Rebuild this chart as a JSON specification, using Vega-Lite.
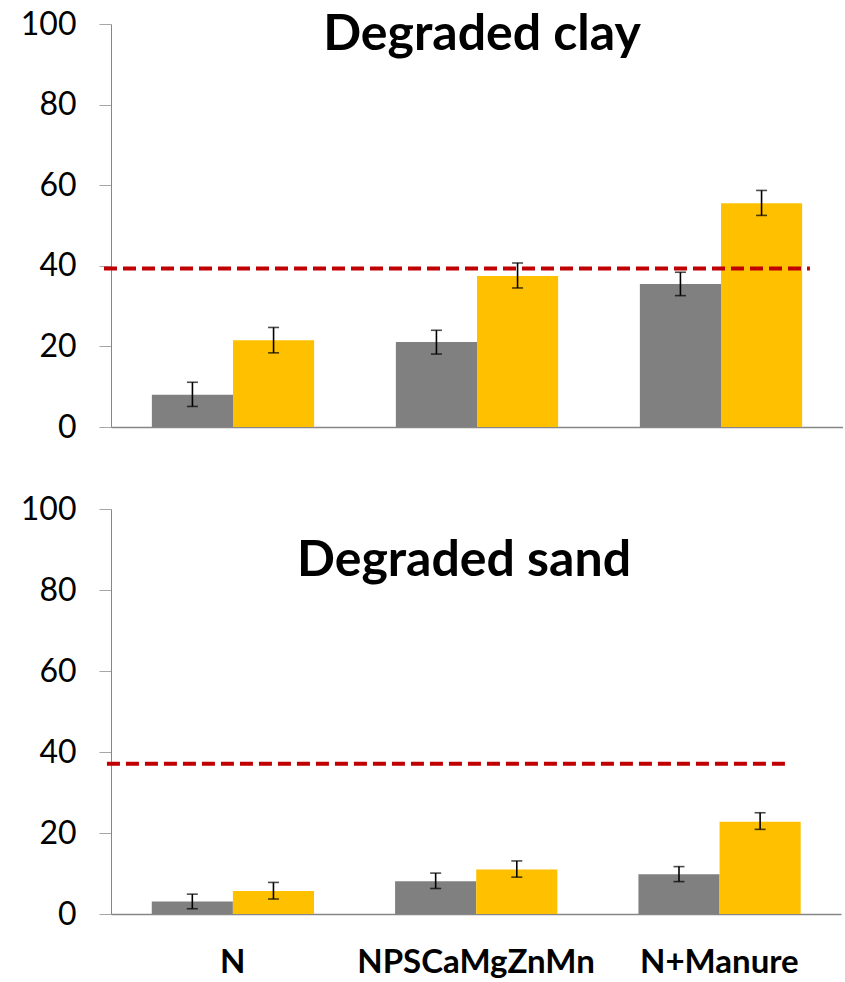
{
  "$schema": "https://vega.github.io/schema/vega-lite/v6.json",
  "padding": {"left": 20, "top": 8, "right": 0, "bottom": 0},
  "background": "white",
  "config": {"view": {"stroke": null}, "font": "Lato", "axis": {"grid": false}},
  "datasets": {
    "bars": [
      {"soil": "Degraded clay", "treatment": "N", "series": "Series 1", "value": 8.0, "lo": 5.1, "hi": 11.1},
      {"soil": "Degraded clay", "treatment": "N", "series": "Series 2", "value": 21.5, "lo": 18.4, "hi": 24.7},
      {"soil": "Degraded clay", "treatment": "NPSCaMgZnMn", "series": "Series 1", "value": 21.1, "lo": 18.1, "hi": 24.0},
      {"soil": "Degraded clay", "treatment": "NPSCaMgZnMn", "series": "Series 2", "value": 37.5, "lo": 34.5, "hi": 40.7},
      {"soil": "Degraded clay", "treatment": "N+Manure", "series": "Series 1", "value": 35.5, "lo": 32.6, "hi": 38.4},
      {"soil": "Degraded clay", "treatment": "N+Manure", "series": "Series 2", "value": 55.5, "lo": 52.5, "hi": 58.7},
      {"soil": "Degraded sand", "treatment": "N", "series": "Series 1", "value": 3.1, "lo": 1.3, "hi": 4.9},
      {"soil": "Degraded sand", "treatment": "N", "series": "Series 2", "value": 5.7, "lo": 3.7, "hi": 7.8},
      {"soil": "Degraded sand", "treatment": "NPSCaMgZnMn", "series": "Series 1", "value": 8.1, "lo": 6.3, "hi": 10.1},
      {"soil": "Degraded sand", "treatment": "NPSCaMgZnMn", "series": "Series 2", "value": 11.0, "lo": 9.1, "hi": 13.1},
      {"soil": "Degraded sand", "treatment": "N+Manure", "series": "Series 1", "value": 9.8, "lo": 8.0, "hi": 11.7},
      {"soil": "Degraded sand", "treatment": "N+Manure", "series": "Series 2", "value": 22.8, "lo": 20.9, "hi": 25.0}
    ],
    "ref": [
      {"soil": "Degraded clay", "level": 39.3, "from": "N", "to": "N+Manure"},
      {"soil": "Degraded sand", "level": 37.1, "from": "N", "to": "N+Manure"}
    ]
  },
  "spacing": 50,
  "vconcat": [
    {
      "width": 732,
      "height": 403,
      "title": {"text": "Degraded clay", "fontSize": 50, "fontWeight": "bold", "font": "Lato", "color": "black", "frame": "group", "anchor": "middle", "offset": -52, "dx": 5},
      "layer": [
        {
          "data": {"name": "bars"},
          "transform": [{"filter": "datum.soil === 'Degraded clay'"}],
          "mark": {"type": "bar"},
          "encoding": {
            "x": {"field": "treatment", "type": "nominal", "title": null,
              "scale": {"domain": ["N", "NPSCaMgZnMn", "N+Manure"], "paddingInner": 0.335, "paddingOuter": 0.1675},
              "axis": {"labels": false, "ticks": false, "tickSize": 0, "domainColor": "#868686", "domainWidth": 1.3, "title": null}},
            "xOffset": {"field": "series", "type": "nominal", "scale": {"paddingInner": 0, "paddingOuter": 0}},
            "y": {"field": "value", "type": "quantitative", "title": null,
              "scale": {"domain": [0, 100], "nice": false},
              "axis": {"values": [0, 20, 40, 60, 80, 100], "labelFontSize": 32, "labelFont": "Lato", "labelColor": "black", "tickSize": 12, "tickColor": "#a6a6a6", "domainColor": "#868686", "labelPadding": 23, "title": null}},
            "color": {"field": "series", "type": "nominal", "legend": null, "scale": {"domain": ["Series 1", "Series 2"], "range": ["#808080", "#FFC000"]}}
          }
        },
        {
          "data": {"name": "bars"},
          "transform": [{"filter": "datum.soil === 'Degraded clay'"}],
          "mark": {"type": "rule", "color": "black", "strokeWidth": 1.6},
          "encoding": {
            "x": {"field": "treatment", "type": "nominal", "title": null},
            "xOffset": {"field": "series", "type": "nominal"},
            "y": {"field": "lo", "type": "quantitative", "title": null},
            "y2": {"field": "hi"}
          }
        },
        {
          "data": {"name": "bars"},
          "transform": [{"filter": "datum.soil === 'Degraded clay'"}],
          "mark": {"type": "tick", "color": "black", "size": 11, "thickness": 1.6, "orient": "horizontal"},
          "encoding": {
            "x": {"field": "treatment", "type": "nominal", "title": null},
            "xOffset": {"field": "series", "type": "nominal"},
            "y": {"field": "lo", "type": "quantitative", "title": null}
          }
        },
        {
          "data": {"name": "bars"},
          "transform": [{"filter": "datum.soil === 'Degraded clay'"}],
          "mark": {"type": "tick", "color": "black", "size": 11, "thickness": 1.6, "orient": "horizontal"},
          "encoding": {
            "x": {"field": "treatment", "type": "nominal", "title": null},
            "xOffset": {"field": "series", "type": "nominal"},
            "y": {"field": "hi", "type": "quantitative", "title": null}
          }
        },
        {
          "data": {"name": "ref"},
          "transform": [{"filter": "datum.soil === 'Degraded clay'"}],
          "mark": {"type": "rule", "color": "#C00000", "strokeWidth": 4, "strokeDash": [13, 6]},
          "encoding": {
            "x": {"field": "from", "type": "nominal", "title": null, "bandPosition": -0.295},
            "x2": {"field": "to", "bandPosition": 1.048},
            "y": {"field": "level", "type": "quantitative", "title": null}
          }
        }
      ]
    },
    {
      "width": 730,
      "height": 405,
      "title": {"text": "Degraded sand", "fontSize": 50, "fontWeight": "bold", "font": "Lato", "color": "black", "frame": "group", "anchor": "middle", "offset": -93, "dx": -12},
      "layer": [
        {
          "data": {"name": "bars"},
          "transform": [{"filter": "datum.soil === 'Degraded sand'"}],
          "mark": {"type": "bar"},
          "encoding": {
            "x": {"field": "treatment", "type": "nominal", "title": null,
              "scale": {"domain": ["N", "NPSCaMgZnMn", "N+Manure"], "paddingInner": 0.335, "paddingOuter": 0.1675},
              "axis": {"labelAngle": 0, "labelFontSize": 33, "labelFontWeight": "bold", "labelFont": "Lato", "labelColor": "black", "labelLimit": 500, "ticks": false, "tickSize": 0, "labelPadding": 32, "domainColor": "#868686", "domainWidth": 1.3, "title": null}},
            "xOffset": {"field": "series", "type": "nominal", "scale": {"paddingInner": 0, "paddingOuter": 0}},
            "y": {"field": "value", "type": "quantitative", "title": null,
              "scale": {"domain": [0, 100], "nice": false},
              "axis": {"values": [0, 20, 40, 60, 80, 100], "labelFontSize": 32, "labelFont": "Lato", "labelColor": "black", "tickSize": 12, "tickColor": "#a6a6a6", "domainColor": "#868686", "labelPadding": 23, "title": null}},
            "color": {"field": "series", "type": "nominal", "legend": null, "scale": {"domain": ["Series 1", "Series 2"], "range": ["#808080", "#FFC000"]}}
          }
        },
        {
          "data": {"name": "bars"},
          "transform": [{"filter": "datum.soil === 'Degraded sand'"}],
          "mark": {"type": "rule", "color": "black", "strokeWidth": 1.6},
          "encoding": {
            "x": {"field": "treatment", "type": "nominal", "title": null},
            "xOffset": {"field": "series", "type": "nominal"},
            "y": {"field": "lo", "type": "quantitative", "title": null},
            "y2": {"field": "hi"}
          }
        },
        {
          "data": {"name": "bars"},
          "transform": [{"filter": "datum.soil === 'Degraded sand'"}],
          "mark": {"type": "tick", "color": "black", "size": 11, "thickness": 1.6, "orient": "horizontal"},
          "encoding": {
            "x": {"field": "treatment", "type": "nominal", "title": null},
            "xOffset": {"field": "series", "type": "nominal"},
            "y": {"field": "lo", "type": "quantitative", "title": null}
          }
        },
        {
          "data": {"name": "bars"},
          "transform": [{"filter": "datum.soil === 'Degraded sand'"}],
          "mark": {"type": "tick", "color": "black", "size": 11, "thickness": 1.6, "orient": "horizontal"},
          "encoding": {
            "x": {"field": "treatment", "type": "nominal", "title": null},
            "xOffset": {"field": "series", "type": "nominal"},
            "y": {"field": "hi", "type": "quantitative", "title": null}
          }
        },
        {
          "data": {"name": "ref"},
          "transform": [{"filter": "datum.soil === 'Degraded sand'"}],
          "mark": {"type": "rule", "color": "#C00000", "strokeWidth": 4, "strokeDash": [13, 6]},
          "encoding": {
            "x": {"field": "from", "type": "nominal", "title": null, "bandPosition": -0.277},
            "x2": {"field": "to", "bandPosition": 0.912},
            "y": {"field": "level", "type": "quantitative", "title": null}
          }
        }
      ]
    }
  ]
}
